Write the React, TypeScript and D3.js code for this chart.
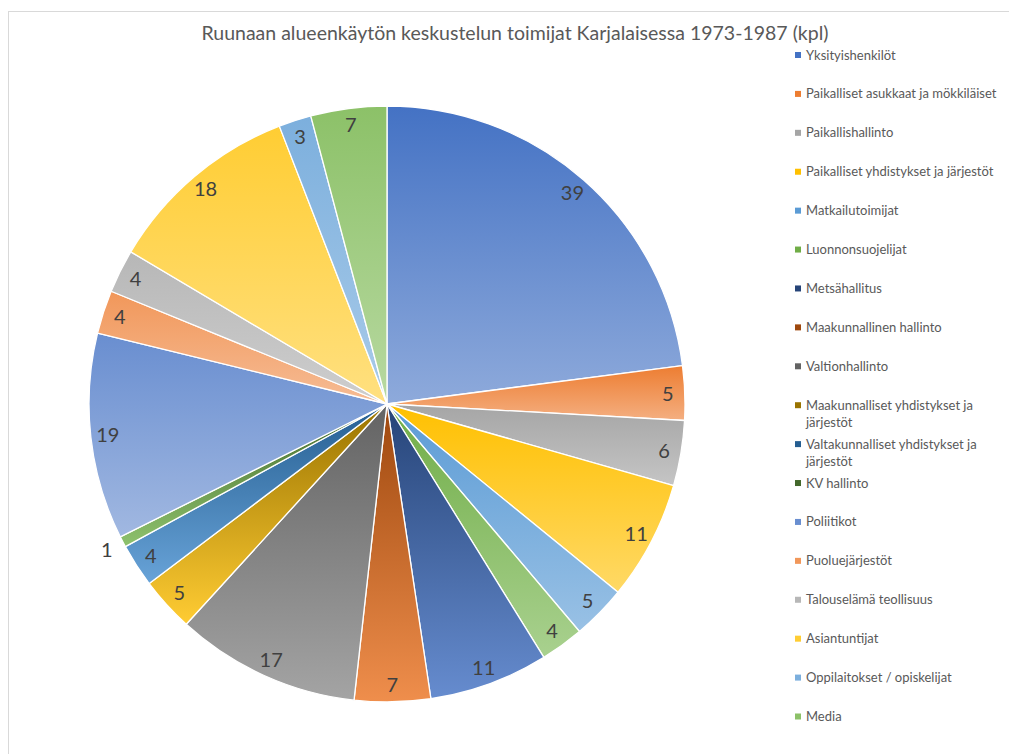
import React, { useEffect, useRef } from 'react';
import * as d3 from 'd3';

// Ruunaan alueenkäytön keskustelun toimijat Karjalaisessa 1973-1987
const categories = [
  'Yksityishenkilöt',
  'Paikalliset asukkaat ja mökkiläiset',
  'Paikallishallinto',
  'Paikalliset yhdistykset ja järjestöt',
  'Matkailutoimijat',
  'Luonnonsuojelijat',
  'Metsähallitus',
  'Maakunnallinen hallinto',
  'Valtionhallinto',
  'Maakunnalliset yhdistykset ja järjestöt',
  'Valtakunnalliset yhdistykset ja järjestöt',
  'KV hallinto',
  'Poliitikot',
  'Puoluejärjestöt',
  'Talouselämä teollisuus',
  'Asiantuntijat',
  'Oppilaitokset / opiskelijat',
  'Media'
];

const values = [39, 5, 6, 11, 5, 4, 11, 7, 17, 5, 4, 1, 19, 4, 4, 18, 3, 7];

const palette = [
  '#4472C4', '#ED7D31', '#A5A5A5', '#FFC000', '#5B9BD5', '#70AD47',
  '#264478', '#9E480E', '#636363', '#997300', '#255E91', '#43682B',
  '#698ED0', '#F1975A', '#B7B7B7', '#FFCD33', '#7CAFDD', '#8CC168'
];

const title = 'Ruunaan alueenkäytön keskustelun toimijat Karjalaisessa 1973-1987 (kpl)';

// bottom colour of a slice gradient: move lightness halfway toward 0.9
function lighten(c) {
  const h = d3.hsl(c);
  h.l = h.l + (0.9 - h.l) * 0.5;
  return h.formatHex();
}

function App() {
  const svgRef = useRef();

  useEffect(() => {
    const width = 1009;
    const height = 754;
    const cx = 387;
    const cy = 404;
    const radius = 298;

    const svg = d3.select(svgRef.current)
      .attr('width', width)
      .attr('height', height);

    svg.selectAll('*').remove();

    // chart frame
    svg.append('rect')
      .attr('x', 8.5)
      .attr('y', 11.5)
      .attr('width', 1010)
      .attr('height', 760)
      .attr('fill', '#fff')
      .attr('stroke', '#d9d9d9')
      .attr('stroke-width', 1);

    const data = categories.map((name, i) => ({ name, value: values[i], color: palette[i] }));

    // per-slice vertical gradients
    const defs = svg.append('defs');
    data.forEach((d, i) => {
      const grad = defs.append('linearGradient')
        .attr('id', `grad-${i}`)
        .attr('x1', 0).attr('y1', 0)
        .attr('x2', 0).attr('y2', 1);
      grad.append('stop').attr('offset', '0%').attr('stop-color', d.color);
      grad.append('stop').attr('offset', '100%').attr('stop-color', lighten(d.color));
    });

    const pie = d3.pie()
      .value(d => d.value)
      .sort(null);

    const arc = d3.arc()
      .innerRadius(0)
      .outerRadius(radius);

    const labelArc = d3.arc()
      .innerRadius(281)
      .outerRadius(281);

    const outerLabelArc = d3.arc()
      .innerRadius(316)
      .outerRadius(316);

    const g = svg.append('g')
      .attr('transform', `translate(${cx},${cy})`);

    const arcs = pie(data);

    g.selectAll('.slice')
      .data(arcs)
      .enter()
      .append('path')
      .attr('class', 'slice')
      .attr('d', arc)
      .attr('fill', (d, i) => `url(#grad-${i})`)
      .attr('stroke', '#fff')
      .attr('stroke-width', 1.3)
      .attr('stroke-linejoin', 'round');

    // data labels, small slices go outside
    g.selectAll('.label')
      .data(arcs)
      .enter()
      .append('text')
      .attr('class', 'label')
      .attr('transform', d => {
        const span = (d.endAngle - d.startAngle) * 281;
        const c = span < 14 ? outerLabelArc.centroid(d) : labelArc.centroid(d);
        return `translate(${c[0]},${c[1]})`;
      })
      .attr('text-anchor', 'middle')
      .attr('dy', '0.35em')
      .attr('fill', '#404040')
      .attr('font-family', 'Lato, "Open Sans", sans-serif')
      .attr('font-size', '20px')
      .text(d => d.data.value);

    // Title
    svg.append('text')
      .attr('x', 515)
      .attr('y', 40)
      .attr('text-anchor', 'middle')
      .attr('fill', '#595959')
      .attr('font-family', 'Lato, "Open Sans", sans-serif')
      .attr('font-size', '19.5px')
      .text(title);

    // Legend
    const legendFont = '13px Lato';
    const ctx = document.createElement('canvas').getContext('2d');
    ctx.font = legendFont;
    const maxW = 200;
    const wrap = (text) => {
      const words = text.split(' ');
      const lines = [];
      let cur = '';
      words.forEach(w => {
        const test = cur ? cur + ' ' + w : w;
        if (ctx.measureText(test).width > maxW && cur) {
          lines.push(cur);
          cur = w;
        } else {
          cur = test;
        }
      });
      lines.push(cur);
      return lines;
    };

    const legendY = d3.scaleLinear()
      .domain([0, data.length - 1])
      .range([55, 716.5]);

    const legend = svg.append('g');
    data.forEach((d, i) => {
      const y = legendY(i);
      legend.append('rect')
        .attr('x', 795)
        .attr('y', y - 3)
        .attr('width', 6)
        .attr('height', 6)
        .attr('fill', d.color);
      const t = legend.append('text')
        .attr('x', 806)
        .attr('y', y)
        .attr('dy', '0.35em')
        .attr('fill', '#595959')
        .attr('font-family', 'Lato, "Open Sans", sans-serif')
        .attr('font-size', '13px');
      wrap(d.name).forEach((line, j) => {
        t.append('tspan')
          .attr('x', 806)
          .attr('dy', j === 0 ? '0.35em' : '17px')
          .text(line);
      });
    });
  }, []);

  return (
    <svg ref={svgRef} style={{ position: 'absolute', left: 0, top: 0, background: '#fff' }}></svg>
  );
}

export default App;
